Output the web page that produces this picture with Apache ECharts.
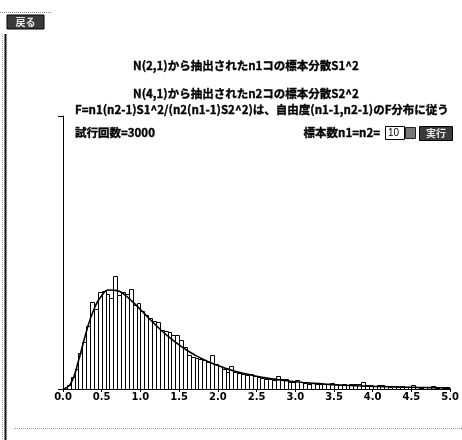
<!DOCTYPE html>
<html>
<head>
<meta charset="utf-8">
<script src="https://cdn.jsdelivr.net/npm/echarts@6/dist/echarts.min.js"></script>
<style>
  html, body { margin: 0; padding: 0; background: #fff; }
  #chart { width: 462px; height: 440px; }
</style>
</head>
<body>
<div id="chart"></div>
<script>
// Simulated F statistics: 3000 trials, histogram with bin width 0.05 on [0, 5)
const titleLines = [
  'N(2,1)から抽出されたn1コの標本分散S1^2',
  'N(4,1)から抽出されたn2コの標本分散S2^2',
  'F=n1(n2-1)S1^2/(n2(n1-1)S2^2)は、自由度(n1-1,n2-1)のF分布に従う'
];
const trialsLabel = '試行回数=3000';
const sampleSizeLabel = '標本数n1=n2=';
const sampleSize = '10';
const runButtonLabel = '実行';
const backButtonLabel = '戻る';

const binWidth = 0.05;
const histCounts = [
  0, 4, 13, 22, 40, 52, 69, 96, 88, 107,
  108, 104, 100, 124, 103, 107, 104, 110, 92, 94,
  86, 81, 78, 75, 74, 65, 64, 63, 59, 59,
  54, 46, 37, 35, 34, 33, 32, 30, 37, 28,
  25, 22, 19, 25, 19, 18, 17, 15, 16, 14,
  13, 12, 11, 11, 10, 14, 11, 11, 8, 8,
  10, 8, 7, 6, 7, 6, 5, 6, 5, 7,
  5, 4, 5, 4, 6, 5, 6, 8, 4, 4,
  3, 4, 4, 3, 2, 3, 2, 3, 2, 2,
  4, 2, 1, 2, 2, 3, 1, 2, 1, 1
];

// Theoretical F(9,9) curve scaled to counts, sampled every 0.1
const curveStep = 0.1;
const curveCounts = [
  0, 6.0, 31.0, 62.4, 87.6, 102.7, 108.8, 108.1, 103.2, 95.7,
  87.3, 78.6, 70.1, 62.1, 54.9, 48.4, 42.6, 37.5, 33.0, 29.2,
  25.7, 22.7, 20.1, 17.9, 15.9, 14.0, 12.5, 11.2, 10.0, 9.0,
  8.0, 7.2, 6.5, 5.9, 5.3, 4.7, 4.3, 3.9, 3.5, 3.2,
  2.9, 2.7, 2.5, 2.3, 2.1, 1.9, 1.7, 1.6, 1.5, 1.4, 1.3
];

const xTicks = { min: 0, max: 5, interval: 0.5 };
const yRange = { min: 0, max: 300 };

const barData = histCounts.map((c, i) => [i * binWidth, (i + 1) * binWidth, c]);
const curveData = curveCounts.map((c, i) => [+(i * curveStep).toFixed(2), c]);

const textFont = '"Noto Sans CJK JP", "Noto Sans", sans-serif';
const headFont = 'bold 11.5px ' + textFont;
const heavy = { fill: '#000', stroke: '#000', lineWidth: 0.35 };
const chart = echarts.init(document.getElementById('chart'), null, { renderer: 'canvas' });

chart.setOption({
  animation: false,
  backgroundColor: '#ffffff',
  grid: { left: 63, right: 3, top: 116, bottom: 51 },
  xAxis: {
    type: 'value',
    min: xTicks.min, max: xTicks.max, interval: xTicks.interval,
    axisLine: { show: true, onZero: false, lineStyle: { color: '#000', width: 1 } },
    axisTick: { show: true, length: 3, lineStyle: { color: '#000' } },
    axisLabel: {
      color: '#000', fontSize: 10, fontWeight: 'bold', margin: 3,
      fontFamily: 'DejaVu Sans, sans-serif',
      showMaxLabel: true, showMinLabel: true,
      formatter: v => v.toFixed(1)
    },
    splitLine: { show: false }
  },
  yAxis: {
    type: 'value',
    min: yRange.min, max: yRange.max, interval: yRange.max,
    axisLine: { show: true, lineStyle: { color: '#000', width: 1 } },
    axisTick: { show: true, length: 5, lineStyle: { color: '#000' } },
    axisLabel: { show: false },
    splitLine: { show: false }
  },
  series: [
    {
      type: 'custom',
      data: barData,
      z: 2,
      renderItem: (params, api) => {
        const topLeft = api.coord([api.value(0), api.value(2)]);
        const bottomRight = api.coord([api.value(1), 0]);
        const x0 = Math.round(topLeft[0]) + 0.5;
        const x1 = Math.round(bottomRight[0]) + 0.5;
        const y0 = Math.round(topLeft[1]) + 0.5;
        const y1 = Math.round(bottomRight[1]) + 0.5;
        return {
          type: 'rect',
          shape: { x: x0, y: y0, width: x1 - x0, height: y1 - y0 },
          style: { fill: '#fff', stroke: '#000', lineWidth: 1 }
        };
      }
    },
    {
      type: 'line',
      data: curveData,
      smooth: true,
      showSymbol: false,
      z: 3,
      lineStyle: { color: '#000', width: 1.6 }
    }
  ],
  graphic: [
    // applet frame
    { type: 'line', shape: { x1: 0, y1: 12.5, x2: 52, y2: 12.5 }, style: { stroke: '#888', lineWidth: 1, lineDash: [1, 1] } },
    { type: 'line', shape: { x1: 2.5, y1: 34, x2: 2.5, y2: 440 }, style: { stroke: '#999', lineWidth: 1, lineDash: [1, 1] } },
    { type: 'line', shape: { x1: 5.5, y1: 34, x2: 5.5, y2: 440 }, style: { stroke: '#111', lineWidth: 2 } },
    { type: 'line', shape: { x1: 15, y1: 428.5, x2: 462, y2: 428.5 }, style: { stroke: '#999', lineWidth: 1, lineDash: [1, 1] } },
    // back button
    { type: 'rect', shape: { x: 7, y: 15, width: 37, height: 14 }, style: { fill: '#3a3a3a', stroke: '#000', lineWidth: 1 } },
    { type: 'text', x: 25.5, y: 22, style: { text: backButtonLabel, fill: '#e8e8e8', font: 'bold 10px ' + textFont, align: 'center', verticalAlign: 'middle' } },
    // titles
    { type: 'text', x: 246, y: 66, style: Object.assign({ text: titleLines[0], font: headFont, align: 'center', verticalAlign: 'middle' }, heavy) },
    { type: 'text', x: 246, y: 94, style: Object.assign({ text: titleLines[1], font: headFont, align: 'center', verticalAlign: 'middle' }, heavy) },
    { type: 'text', x: 75, y: 110, style: Object.assign({ text: titleLines[2], font: headFont, align: 'left', verticalAlign: 'middle' }, heavy) },
    { type: 'text', x: 75, y: 133, style: Object.assign({ text: trialsLabel, font: headFont, align: 'left', verticalAlign: 'middle' }, heavy) },
    { type: 'text', x: 380, y: 133, style: Object.assign({ text: sampleSizeLabel, font: headFont, align: 'right', verticalAlign: 'middle' }, heavy) },
    // sample size input
    { type: 'rect', shape: { x: 385.5, y: 126.5, width: 19, height: 13 }, style: { fill: '#fff', stroke: '#000', lineWidth: 1 } },
    { type: 'text', x: 388, y: 133, style: { text: sampleSize, fill: '#000', font: '10px Liberation Sans, sans-serif', align: 'left', verticalAlign: 'middle' } },
    { type: 'rect', shape: { x: 405.5, y: 127.5, width: 10, height: 11 }, style: { fill: '#777', stroke: '#222', lineWidth: 1 } },
    // run button
    { type: 'rect', shape: { x: 419.5, y: 126.5, width: 33, height: 14 }, style: { fill: '#3a3a3a', stroke: '#000', lineWidth: 1 } },
    { type: 'text', x: 436, y: 133.5, style: { text: runButtonLabel, fill: '#e8e8e8', font: 'bold 10px ' + textFont, align: 'center', verticalAlign: 'middle' } }
  ]
});
</script>
</body>
</html>
